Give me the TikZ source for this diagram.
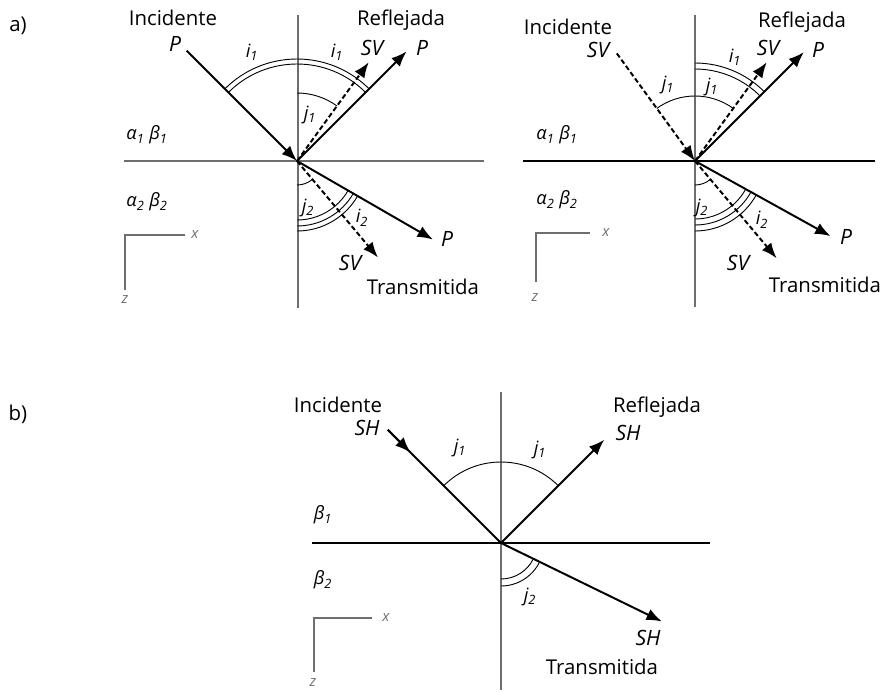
\documentclass[tikz,border=0pt]{standalone}
\usepackage{fontspec}
\setmainfont{Open Sans}
\usetikzlibrary{arrows.meta}
\definecolor{axisgray}{HTML}{6E6E6E}
\definecolor{textblack}{HTML}{000000}

\newcommand{\wsub}[2]{#1\textsubscript{#2}}

\tikzset{
  ray/.style={line width=1.4pt,-{Latex[length=11pt,width=8.5pt]}},
  dray/.style={ray,dash pattern=on 3.5pt off 2pt},
  plane/.style={axisgray,line width=0.8pt},
  iface/.style={black,line width=1.1pt},
  angarc/.style={line width=0.65pt},
  tag/.style={font=\fontsize{14.5}{16}\selectfont,text=textblack,inner sep=0pt},
  wave/.style={font=\fontsize{15}{16}\selectfont\itshape,text=textblack,inner sep=0pt},
  ang/.style={font=\fontsize{13}{14}\selectfont\itshape,text=textblack,inner sep=0pt},
  axlbl/.style={font=\fontsize{10.5}{11}\selectfont\itshape,text=axisgray,inner sep=0pt}
}

\begin{document}
\begin{tikzpicture}[x=0.025cm,y=0.025cm]

    \useasboundingbox (0,0) rectangle (888,-691);

    % panel a, P incidente
    \begin{scope}[shift={(297,-161)}]
	\coordinate (aO) at (0,0);
	\coordinate (aUp) at (1,146);
	\coordinate (aDown) at (1,-147);
	\coordinate (aLeft) at (-173,0);
	\coordinate (aRight) at (187,0);
	\coordinate (aIP) at (135:156);
	\coordinate (aRP) at (45:155);
	\coordinate (aRS) at (54:122);
	\coordinate (aTP) at (-30:157);
	\coordinate (aTS) at (-50:126);

	\draw[plane] (aUp) -- (aDown);
	\draw[plane] (aLeft) -- (aRight);

	\draw[angarc] (45:97) arc[start angle=45,end angle=135,radius=97];
	\draw[angarc] (45:102) arc[start angle=45,end angle=135,radius=102];
	\draw[angarc] (54:68) arc[start angle=54,end angle=90,radius=68];
	\draw[angarc] (-90:24) arc[start angle=-90,end angle=-50,radius=24];
	\foreach \r in {59,65,70}
		\draw[angarc] (-90:\r) arc[start angle=-90,end angle=-30,radius=\r];

	\draw[ray] (aIP) -- (aO);
	\draw[ray] (aO) -- (aRP);
	\draw[dray] (aO) -- (aRS);
	\draw[ray] (aO) -- (aTP);
	\draw[dray] (aO) -- (aTS);
    \end{scope}

    \coordinate (aAx) at (125,-235);
    \coordinate (aAxX) at (185,-235);
    \coordinate (aAxZ) at (125,-290);
    \draw[plane] (aAxX) -- (aAx) -- (aAxZ);

    \node[tag] (aTagA) at (18,-26) {a)};
    \node[tag] (aInc) at (173,-18) {Incidente};
    \node[wave] (aIncP) at (175,-44) {P};
    \node[tag] (aRef) at (401,-20) {Reflejada};
    \node[wave] (aRefSV) at (372,-48) {SV};
    \node[wave] (aRefP) at (422,-48) {P};
    \node[ang] (aI1l) at (252,-52) {\wsub{i}{1}};
    \node[ang] (aI1r) at (337,-52) {\wsub{i}{1}};
    \node[ang] (aJ1) at (310,-115) {\wsub{j}{1}};
    \node[ang] (aMed1) at (147,-135) {\wsub{α}{1} \wsub{β}{1}};
    \node[ang] (aMed2) at (147,-202) {\wsub{α}{2} \wsub{β}{2}};
    \node[ang] (aJ2) at (308,-208) {\wsub{j}{2}};
    \node[ang] (aI2) at (362,-218) {\wsub{i}{2}};
    \node[wave] (aTraP) at (447,-239) {P};
    \node[wave] (aTraSV) at (350,-263) {SV};
    \node[tag] (aTra) at (423,-287) {Transmitida};
    \node[axlbl] (aX) at (195,-235) {x};
    \node[axlbl] (aZ) at (125,-300) {z};

    % panel a, SV incidente
    \begin{scope}[shift={(695,-161)}]
	\coordinate (cO) at (0,0);
	\coordinate (cUp) at (0,146);
	\coordinate (cDown) at (0,-146);
	\coordinate (cLeft) at (-172,0);
	\coordinate (cRight) at (180,0);
	\coordinate (cIS) at (126:133);
	\coordinate (cRP) at (45:154);
	\coordinate (cRS) at (54:122);
	\coordinate (cTP) at (-29:155);
	\coordinate (cTS) at (-50:127);

	\draw[plane] (cUp) -- (cDown);
	\draw[iface] (cLeft) -- (cRight);

	\draw[angarc] (45:92) arc[start angle=45,end angle=90,radius=92];
	\draw[angarc] (45:98) arc[start angle=45,end angle=90,radius=98];
	\draw[angarc] (54:65) arc[start angle=54,end angle=126,radius=65];
	\draw[angarc] (-90:24) arc[start angle=-90,end angle=-50,radius=24];
	\foreach \r in {58,64,70}
		\draw[angarc] (-90:\r) arc[start angle=-90,end angle=-29,radius=\r];

	\draw[dray] (cIS) -- (cO);
	\draw[ray] (cO) -- (cRP);
	\draw[dray] (cO) -- (cRS);
	\draw[ray] (cO) -- (cTP);
	\draw[dray] (cO) -- (cTS);
    \end{scope}

    \coordinate (cAx) at (536,-233);
    \coordinate (cAxX) at (590,-233);
    \coordinate (cAxZ) at (536,-282);
    \draw[plane] (cAxX) -- (cAx) -- (cAxZ);

    \node[tag] (cInc) at (568,-27) {Incidente};
    \node[wave] (cIncSV) at (598,-50) {SV};
    \node[tag] (cRef) at (802,-22) {Reflejada};
    \node[wave] (cRefSV) at (768,-48) {SV};
    \node[wave] (cRefP) at (818,-50) {P};
    \node[ang] (cI1) at (735,-57) {\wsub{i}{1}};
    \node[ang] (cJ1l) at (668,-85) {\wsub{j}{1}};
    \node[ang] (cJ1r) at (712,-87) {\wsub{j}{1}};
    \node[ang] (cMed1) at (557,-135) {\wsub{α}{1} \wsub{β}{1}};
    \node[ang] (cMed2) at (557,-200) {\wsub{α}{2} \wsub{β}{2}};
    \node[ang] (cJ2) at (702,-208) {\wsub{j}{2}};
    \node[ang] (cI2) at (762,-220) {\wsub{i}{2}};
    \node[wave] (cTraP) at (846,-237) {P};
    \node[wave] (cTraSV) at (738,-263) {SV};
    \node[tag] (cTra) at (825,-285) {Transmitida};
    \node[axlbl] (cX) at (606,-233) {x};
    \node[axlbl] (cZ) at (535,-298) {z};

    % panel b, SH
    \begin{scope}[shift={(501,-543)}]
	\coordinate (bO) at (0,0);
	\coordinate (bUp) at (0,151);
	\coordinate (bDown) at (0,-147);
	\coordinate (bLeft) at (-189,0);
	\coordinate (bRight) at (209,0);
	\coordinate (bIS) at (135:160);
	\coordinate (bIM) at (135:128);
	\coordinate (bRS) at (45:146);
	\coordinate (bTS) at (-26:179);

	\draw[plane] (bUp) -- (bDown);
	\draw[iface] (bLeft) -- (bRight);

	\draw[angarc] (45:81) arc[start angle=45,end angle=135,radius=81];
	\draw[angarc] (-90:36) arc[start angle=-90,end angle=-26,radius=36];
	\draw[angarc] (-90:43) arc[start angle=-90,end angle=-26,radius=43];

	\draw[line width=1.4pt] (bIS) -- (bO);
	\draw[ray] (bIS) -- (bIM);
	\draw[ray] (bO) -- (bRS);
	\draw[ray] (bO) -- (bTS);
    \end{scope}

    \coordinate (bAx) at (314,-618);
    \coordinate (bAxX) at (372,-618);
    \coordinate (bAxZ) at (314,-672);
    \draw[plane] (bAxX) -- (bAx) -- (bAxZ);

    \node[tag] (bTagB) at (18,-414) {b)};
    \node[tag] (bInc) at (338,-405) {Incidente};
    \node[wave] (bIncSH) at (367,-428) {SH};
    \node[tag] (bRef) at (657,-407) {Reflejada};
    \node[wave] (bRefSH) at (628,-433) {SH};
    \node[ang] (bJ1l) at (460,-448) {\wsub{j}{1}};
    \node[ang] (bJ1r) at (540,-450) {\wsub{j}{1}};
    \node[ang] (bMed1) at (323,-515) {\wsub{β}{1}};
    \node[ang] (bMed2) at (323,-580) {\wsub{β}{2}};
    \node[ang] (bJ2) at (530,-597) {\wsub{j}{2}};
    \node[wave] (bTraSH) at (648,-638) {SH};
    \node[tag] (bTra) at (602,-667) {Transmitida};
    \node[axlbl] (bX) at (386,-618) {x};
    \node[axlbl] (bZ) at (313,-683) {z};

\end{tikzpicture}
\end{document}
